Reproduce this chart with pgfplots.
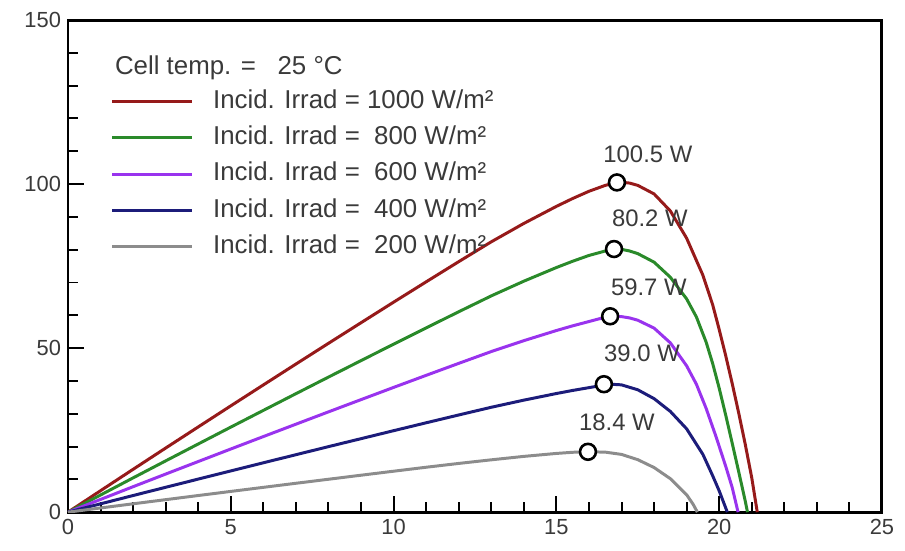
\documentclass[border=0pt]{standalone}
\usepackage{fontspec}
\setmainfont{Liberation Sans}
\usepackage{pgfplots}
\pgfplotsset{compat=1.18}
\usetikzlibrary{calc}

\definecolor{c1000}{HTML}{961A1A}
\definecolor{c800}{HTML}{2A8A2A}
\definecolor{c600}{HTML}{9933EE}
\definecolor{c400}{HTML}{1C1C7A}
\definecolor{c200}{HTML}{8C8C8C}
\definecolor{txt}{HTML}{3A3A3A}

\begin{document}
\begin{tikzpicture}
\begin{axis}[
  name=ax, scale only axis,
  width=14.39cm, height=8.70cm,
  xmin=0, xmax=25, ymin=0, ymax=150,
  xtick={0,5,...,25}, ytick={0,50,100,150},
  minor x tick num=4, minor y tick num=4,
  tick align=inside, xtick pos=bottom, ytick pos=left,
  major tick length=8pt, minor tick length=5pt,
  axis line style={line width=1.5pt},
  every tick/.style={black, line width=1pt},
  tick label style={font=\fontsize{11}{13}\selectfont, text=txt},
  /pgf/number format/assume math mode=true,
  legend style={draw=none, fill=none, at={(rel axis cs:0.052,0.86)}, anchor=north west,
    inner sep=0pt, row sep=6.3pt, font=\fontsize{13}{15}\selectfont, text=txt,
    nodes={inner sep=0pt, text height=9.5pt, text depth=2.5pt},
    column sep=10pt},
  legend cell align=left,
  legend image code/.code={\draw[#1, line width=1.5pt] (0pt,0pt) -- (40pt,0pt);},
]
% 1000 W/m2
\addplot[c1000, line width=1.5pt] coordinates {
(0,0) (1,6.54) (2,13.06) (3,19.54) (4,25.98) (5,32.4) (6,38.78) (7,45.14) (8,51.46)
(9,57.74) (10,64.0) (11,70.2) (12,76.35) (13,82.4) (14,88.0) (15,93.2) (15.5,95.6)
(16,97.8) (16.5,99.6) (16.86,100.45) (17.0,100.55) (17.25,100.3) (17.5,99.6) (18.0,97.0)
(18.5,91.8) (19.0,83.5) (19.5,72.2) (19.8,63.2) (20.0,55.7) (20.2,47.7) (20.4,39.2)
(20.6,30.2) (20.8,20.7) (21.0,10.5) (21.17,0)};
\addlegendentry{Incid. Irrad = 1000 W/m²}
% 800 W/m2
\addplot[c800, line width=1.5pt] coordinates {
(0,0) (1,5.23) (2,10.45) (3,15.63) (4,20.78) (5,25.92) (6,31.02) (7,36.11) (8,41.17)
(9,46.19) (10,51.2) (11,56.16) (12,61.08) (13,65.92) (14,70.4) (15,74.56) (15.5,76.48)
(16,78.24) (16.5,79.6) (16.77,80.15) (17.0,80.1) (17.25,79.6) (17.5,78.8) (18.0,76.2)
(18.5,71.6) (19.0,65.0) (19.3,59.5) (19.6,51.8) (19.8,45.3) (20.0,37.8) (20.2,29.6)
(20.4,21.0) (20.6,12.3) (20.8,3.4) (20.87,0)};
\addlegendentry{Incid. Irrad = \ 800 W/m²}
% 600 W/m2
\addplot[c600, line width=1.5pt] coordinates {
(0,0) (1,3.88) (2,7.76) (3,11.61) (4,15.43) (5,19.25) (6,23.04) (7,26.81) (8,30.57)
(9,34.3) (10,38.02) (11,41.7) (12,45.35) (13,48.95) (14,52.27) (15,55.36) (15.5,56.79)
(16,58.1) (16.3,58.9) (16.65,59.6) (16.85,59.7) (17.0,59.6) (17.25,59.2) (17.5,58.5)
(18.0,56.1) (18.5,51.6) (19.0,44.6) (19.3,39.0) (19.6,31.6) (19.9,23.1) (20.2,14.0)
(20.4,7.5) (20.58,0)};
\addlegendentry{Incid. Irrad = \ 600 W/m²}
% 400 W/m2
\addplot[c400, line width=1.5pt] coordinates {
(0,0) (1,2.54) (2,5.07) (3,7.58) (4,10.08) (5,12.57) (6,15.05) (7,17.51) (8,19.97)
(9,22.4) (10,24.83) (11,27.24) (12,29.62) (13,31.97) (14,34.14) (15,36.16) (15.5,37.1)
(16,37.95) (16.46,38.75) (16.75,38.95) (17.0,38.8) (17.5,37.3) (18.0,34.6) (18.5,30.7)
(19.0,25.4) (19.5,17.6) (19.8,11.1) (20.0,6.5) (20.25,0)};
\addlegendentry{Incid. Irrad = \ 400 W/m²}
% 200 W/m2
\addplot[c200, line width=1.5pt] coordinates {
(0,0) (1,1.28) (2,2.55) (3,3.81) (4,5.07) (5,6.32) (6,7.56) (7,8.8) (8,10.03)
(9,11.26) (10,12.48) (11,13.69) (12,14.85) (13,15.95) (14,17.0) (15,17.9) (15.5,18.25)
(15.97,18.4) (16.5,18.3) (17.0,17.6) (17.5,16.0) (18.0,13.6) (18.5,10.2) (19.0,5.3)
(19.2,2.4) (19.33,0)};
\addlegendentry{Incid. Irrad = \ 200 W/m²}
% maximum power points
\addplot[only marks, mark=*, mark size=4pt,
  mark options={fill=white, draw=black, line width=1.3pt}, forget plot] coordinates {
(16.86,100.5) (16.77,80.2) (16.65,59.7) (16.46,39.0) (15.97,18.4)};

\node[font=\fontsize{13}{15}\selectfont, text=txt, anchor=west] at (axis cs:1.23,135.5) {Cell temp. = \ \ 25 °C};
\node[font=\fontsize{12}{14}\selectfont, text=txt] at (axis cs:17.81,109.1) {100.5 W};
\node[font=\fontsize{12}{14}\selectfont, text=txt] at (axis cs:17.87,89.6) {80.2 W};
\node[font=\fontsize{12}{14}\selectfont, text=txt] at (axis cs:17.84,68.6) {59.7 W};
\node[font=\fontsize{12}{14}\selectfont, text=txt] at (axis cs:17.63,48.5) {39.0 W};
\node[font=\fontsize{12}{14}\selectfont, text=txt] at (axis cs:16.86,27.4) {18.4 W};
\end{axis}
\pgfresetboundingbox
\path[use as bounding box] ($(ax.south west)+(-1.202cm,-0.672cm)$) rectangle ($(ax.north east)+(0.407cm,0.354cm)$);
\end{tikzpicture}
\end{document}
